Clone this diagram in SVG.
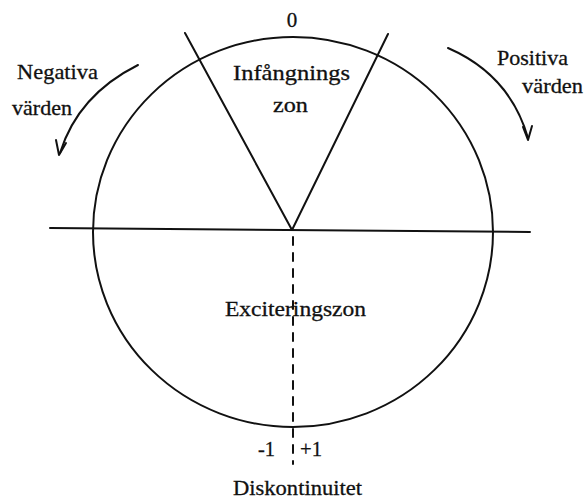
<svg xmlns="http://www.w3.org/2000/svg" width="584" height="499" viewBox="0 0 584 499">
<style>
.ln{fill:none;stroke:#111;stroke-width:2;stroke-linecap:round;stroke-linejoin:round}
.t{font-family:"Liberation Serif","Times New Roman",serif;font-size:21px;fill:#111;stroke:#111;stroke-width:0.3}
</style>
<rect width="584" height="499" fill="#fff"/>
<g id="circle">
<ellipse cx="293" cy="232" rx="200" ry="195" class="ln"/>
</g>
<g id="connectors">
<line x1="50" y1="228" x2="530" y2="232" class="ln"/>
<polyline points="185,33 292,230 388,34" class="ln"/>
<line x1="293" y1="237" x2="293" y2="464" class="ln" stroke-dasharray="8 8" stroke-linecap="butt"/>
<path d="M138 65 Q78 95 60 153" class="ln"/>
<path d="M56 140 L59 155 L66 143" class="ln"/>
<path d="M448 48 Q510 75 528 138" class="ln"/>
<path d="M523 127 L528 140 L532 126" class="ln"/>
</g>
<g id="labels">
<text class="t" x="292" y="27" text-anchor="middle">0</text>
<text class="t" x="233" y="80" textLength="117" lengthAdjust="spacingAndGlyphs">Infångnings</text>
<text class="t" x="273" y="112" textLength="35" lengthAdjust="spacingAndGlyphs">zon</text>
<text class="t" x="17" y="79" textLength="81" lengthAdjust="spacingAndGlyphs">Negativa</text>
<text class="t" x="12" y="115" textLength="60" lengthAdjust="spacingAndGlyphs">värden</text>
<text class="t" x="497" y="65" textLength="71" lengthAdjust="spacingAndGlyphs">Positiva</text>
<text class="t" x="522" y="93" textLength="61" lengthAdjust="spacingAndGlyphs">värden</text>
<text class="t" x="225" y="316" textLength="141" lengthAdjust="spacingAndGlyphs">Exciteringszon</text>
<text class="t" x="258" y="456" textLength="17" lengthAdjust="spacingAndGlyphs">-1</text>
<text class="t" x="300" y="456" textLength="22" lengthAdjust="spacingAndGlyphs">+1</text>
<text class="t" x="233" y="495" textLength="129" lengthAdjust="spacingAndGlyphs">Diskontinuitet</text>
</g>
</svg>
